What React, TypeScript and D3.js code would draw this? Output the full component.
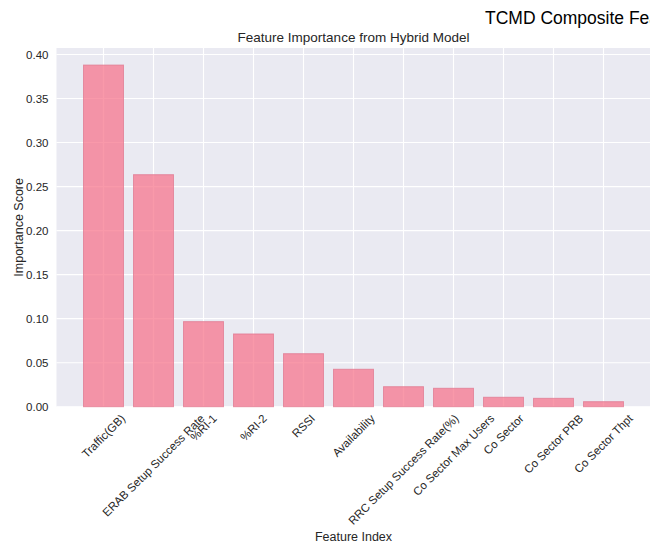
import React from "react";
import * as d3 from "d3";

const features = [
  "Traffic(GB)",
  "ERAB Setup Success Rate",
  "%RI-1",
  "%RI-2",
  "RSSI",
  "Availability",
  "RRC Setup Success Rate(%)",
  "Co Sector Max Users",
  "Co Sector",
  "Co Sector PRB",
  "Co Sector Thpt",
];
const importance = [0.388, 0.2635, 0.0966, 0.0826, 0.0602, 0.0425, 0.0227, 0.0209, 0.0107, 0.0095, 0.0057];
const yTicks = [0, 0.05, 0.1, 0.15, 0.2, 0.25, 0.3, 0.35, 0.4];

const W = 650;
const H = 548;
const FONT = "'Liberation Sans', Arial, sans-serif";
const TICK_SIZE = 11.5;

const plot = { left: 56.5, right: 650.5, top: 48, bottom: 406.7 };

let ctx: CanvasRenderingContext2D | null = null;
function textWidth(s: string, size: number) {
  if (!ctx) ctx = document.createElement("canvas").getContext("2d");
  if (!ctx) return s.length * size * 0.5;
  ctx.font = `${size}px ${FONT}`;
  return ctx.measureText(s).width;
}

export default function App() {
  const n = features.length;
  // matplotlib-style limits: bars of width 0.8 plus 5% margins
  const lo = -0.4 - 0.05 * (n - 1 + 0.8);
  const hi = n - 1 + 0.4 + 0.05 * (n - 1 + 0.8);
  const x = d3.scaleLinear().domain([lo, hi]).range([plot.left, plot.right]);
  const yMax = (d3.max(importance) as number) * 1.05;
  const y = d3.scaleLinear().domain([0, yMax]).range([plot.bottom, plot.top]);
  const bw = x(0.8) - x(0);

  const labelTop = plot.bottom + 5;
  const s45 = Math.SQRT1_2;

  return (
    <svg
      width={W}
      height={H}
      style={{ position: "absolute", left: 0, top: 0, background: "#fff" }}
      fontFamily={FONT}
    >
      <rect x={plot.left} y={plot.top} width={plot.right - plot.left} height={plot.bottom - plot.top} fill="#EAEAF2" />
      {yTicks.map((t) => (
        <line key={"gy" + t} x1={plot.left} x2={plot.right} y1={y(t)} y2={y(t)} stroke="#fff" strokeWidth={1.1} />
      ))}
      {features.map((f, i) => (
        <line key={"gx" + i} x1={x(i)} x2={x(i)} y1={plot.top} y2={plot.bottom} stroke="#fff" strokeWidth={1.1} />
      ))}
      {importance.map((v, i) => (
        <rect
          key={"b" + i}
          x={x(i) - bw / 2}
          y={y(v)}
          width={bw}
          height={plot.bottom - y(v)}
          fill="#f77189"
          fillOpacity={0.72}
          stroke="#e07890"
          strokeOpacity={0.75}
          strokeWidth={1}
        />
      ))}
      {yTicks.map((t) => (
        <text
          key={"ty" + t}
          x={plot.left - 8}
          y={y(t)}
          textAnchor="end"
          dominantBaseline="central"
          fontSize={TICK_SIZE}
          fill="#262626"
        >
          {d3.format(".2f")(t)}
        </text>
      ))}
      {features.map((f, i) => {
        const L = textWidth(f, TICK_SIZE);
        const h = TICK_SIZE * 1.15;
        const cy = labelTop + ((L + h) * s45) / 2;
        return (
          <text
            key={"tx" + i}
            transform={`translate(${x(i)},${cy}) rotate(-45)`}
            textAnchor="middle"
            dominantBaseline="central"
            fontSize={TICK_SIZE}
            fill="#262626"
          >
            {f}
          </text>
        );
      })}
      <text
        transform={`translate(19,${(plot.top + plot.bottom) / 2}) rotate(-90)`}
        textAnchor="middle"
        dominantBaseline="central"
        fontSize={12.5}
        fill="#262626"
      >
        Importance Score
      </text>
      <text x={(plot.left + plot.right) / 2} y={541} textAnchor="middle" fontSize={12.5} fill="#262626">
        Feature Index
      </text>
      <text x={(plot.left + plot.right) / 2} y={42} textAnchor="middle" fontSize={13.5} fill="#262626">
        Feature Importance from Hybrid Model
      </text>
      <text x={485} y={24} fontSize={17.5} fill="#000">
        TCMD Composite Feature Importance Analysis
      </text>
    </svg>
  );
}
